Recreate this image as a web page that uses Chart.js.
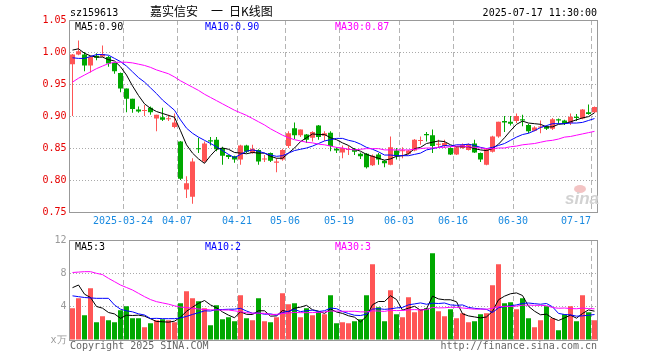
<!DOCTYPE html>
<html><head><meta charset="utf-8">
<script src="https://cdn.jsdelivr.net/npm/chart.js@4.4.1/dist/chart.umd.min.js"></script>
<style>
html,body{margin:0;padding:0;background:#fff;}
#wrap{position:relative;width:660px;height:360px;overflow:hidden;background:#fff;}
canvas{position:absolute;left:0;}
.t{position:absolute;font:10px 'DejaVu Sans Mono',monospace;line-height:10px;white-space:pre;z-index:5;}
.c{position:absolute;font:12px 'Noto Sans CJK SC',sans-serif;line-height:12px;white-space:pre;z-index:5;color:#000;}
</style></head><body>
<div id="wrap">
<canvas id="k" width="660" height="230" style="top:0px"></canvas>
<canvas id="v" width="660" height="130" style="top:230px"></canvas>
<div class="t" style="left:70px;top:8px;color:#000">sz159613</div>
<div class="c" style="left:150px;top:5px">嘉实信安</div>
<div class="c" style="left:211px;top:5px">一</div>
<div class="c" style="left:229px;top:5px">日K线图</div>
<div class="t" style="right:63px;top:8px;color:#000">2025-07-17 11:30:00</div>
<div class="t" style="left:75px;top:22px;color:#000">MA5:0.90</div>
<div class="t" style="left:205px;top:22px;color:#0000ff">MA10:0.90</div>
<div class="t" style="left:335px;top:22px;color:#ff00ff">MA30:0.87</div>
<div class="t" style="left:75px;top:242px;color:#000">MA5:3</div>
<div class="t" style="left:205px;top:242px;color:#0000ff">MA10:2</div>
<div class="t" style="left:335px;top:242px;color:#ff00ff">MA30:3</div>
<div class="t" style="left:70px;top:341px;color:#666">Copyright 2025 SINA.COM</div>
<div class="t" style="right:63px;top:341px;color:#666">http://finance.sina.com.cn</div>
<div style="position:absolute;left:574px;top:185px;width:12px;height:8px;border-radius:50%;background:#f3c4c4;z-index:4"></div>
<div style="position:absolute;left:565px;top:190px;font:italic bold 17px 'Liberation Sans',sans-serif;line-height:17px;color:#d2d2d2;z-index:4">sina</div>
</div>
<script>
const categories = ['2025-03-11','2025-03-12','2025-03-13','2025-03-14','2025-03-17','2025-03-18','2025-03-19','2025-03-20','2025-03-21','2025-03-24','2025-03-25','2025-03-26','2025-03-27','2025-03-28','2025-03-31','2025-04-01','2025-04-02','2025-04-03','2025-04-07','2025-04-08','2025-04-09','2025-04-10','2025-04-11','2025-04-14','2025-04-15','2025-04-16','2025-04-17','2025-04-18','2025-04-21','2025-04-22','2025-04-23','2025-04-24','2025-04-25','2025-04-28','2025-04-29','2025-04-30','2025-05-06','2025-05-07','2025-05-08','2025-05-09','2025-05-12','2025-05-13','2025-05-14','2025-05-15','2025-05-16','2025-05-19','2025-05-20','2025-05-21','2025-05-22','2025-05-23','2025-05-26','2025-05-27','2025-05-28','2025-05-29','2025-05-30','2025-06-03','2025-06-04','2025-06-05','2025-06-06','2025-06-09','2025-06-10','2025-06-11','2025-06-12','2025-06-13','2025-06-16','2025-06-17','2025-06-18','2025-06-19','2025-06-20','2025-06-23','2025-06-24','2025-06-25','2025-06-26','2025-06-27','2025-06-30','2025-07-01','2025-07-02','2025-07-03','2025-07-04','2025-07-07','2025-07-08','2025-07-09','2025-07-10','2025-07-11','2025-07-14','2025-07-15','2025-07-16','2025-07-17'];

const tickDates = ['2025-03-24','2025-04-07','2025-04-21','2025-05-06','2025-05-19','2025-06-03','2025-06-16','2025-06-30','2025-07-17'];
const tickText = ['2025-03-24','04-07','04-21','05-06','05-19','06-03','06-16','06-30','07-17'];

const open = [.981,.996,.996,.979,.994,.993,.992,.983,.967,.943, .927,.910,.908,.913,.896,.898,.895,.883,.860,.785, .774,.849,.829,.862,.863,.850,.839,.837,.832,.854, .842,.847,.832,.842,.827,.832,.853,.881,.870,.871, .866,.885,.869,.874,.849,.843,.847,.848,.841,.841, .823,.840,.830,.824,.846,.845,.841,.846,.861,.872, .870,.855,.853,.850,.840,.850,.847,.857,.842,.824, .844,.868,.892,.891,.892,.895,.886,.877,.882,.884, .880,.895,.893,.889,.899,.896,.906,.906];
const high = [.997,1.018,1.000,.994,.998,1.010,.994,.984,.968,.943, .927,.915,.917,.915,.902,.913,.902,.904,.861,.806, .834,.866,.860,.867,.867,.852,.840,.838,.855,.855, .855,.848,.839,.843,.834,.849,.876,.890,.879,.872, .876,.886,.876,.876,.851,.854,.853,.850,.843,.842, .840,.842,.831,.868,.850,.851,.847,.864,.868,.875, .879,.863,.863,.851,.852,.857,.857,.863,.843,.850, .869,.891,.900,.900,.904,.902,.888,.884,.893,.885, .897,.896,.894,.904,.903,.911,.918,.915];
const low = [.900,.995,.970,.968,.987,.992,.977,.966,.937,.906, .905,.905,.900,.902,.876,.892,.892,.881,.800,.772, .763,.842,.827,.854,.845,.824,.833,.827,.824,.842, .841,.824,.828,.828,.812,.830,.850,.864,.867,.858, .860,.863,.861,.845,.842,.834,.839,.839,.833,.818, .822,.824,.820,.823,.832,.834,.840,.845,.855,.860, .842,.850,.850,.839,.839,.849,.846,.842,.828,.823, .843,.866,.875,.885,.889,.884,.873,.876,.873,.878, .878,.888,.886,.886,.892,.895,.902,.905];
const close = [.996,1.001,.979,.992,.991,.997,.982,.970,.943,.927, .911,.907,.909,.906,.902,.894,.896,.890,.802,.795, .829,.848,.857,.860,.848,.838,.836,.832,.854,.844, .849,.829,.833,.830,.829,.847,.873,.870,.879,.863, .875,.867,.873,.853,.846,.850,.848,.844,.837,.820, .838,.832,.826,.851,.837,.846,.846,.863,.862,.870, .853,.856,.858,.840,.851,.855,.856,.843,.832,.848, .868,.891,.890,.888,.900,.893,.876,.882,.883,.880, .895,.893,.888,.899,.897,.910,.903,.914];

const ma5 = [1.003,1.005,.998,.994,.992,.992,.988,.986,.977,.964, .947,.932,.919,.912,.907,.904,.901,.898,.877,.855, .842,.833,.826,.838,.848,.850,.848,.843,.842,.841, .843,.842,.842,.837,.834,.834,.842,.850,.860,.866, .872,.871,.871,.866,.863,.858,.854,.848,.845,.840, .837,.834,.831,.833,.837,.838,.841,.849,.851,.857, .859,.861,.860,.855,.852,.852,.852,.849,.847,.846, .849,.856,.866,.877,.887,.892,.889,.888,.887,.883, .883,.887,.888,.891,.894,.897,.899,.905];
const ma10 = [.991,.990,.990,.993,.996,.996,.995,.990,.985,.978, .969,.960,.953,.944,.935,.925,.917,.909,.894,.881, .873,.867,.862,.857,.852,.846,.840,.835,.840,.845, .847,.845,.842,.839,.837,.838,.842,.846,.848,.850, .853,.857,.861,.863,.865,.865,.862,.860,.856,.851, .848,.844,.839,.839,.838,.838,.838,.840,.842,.847, .849,.851,.854,.853,.855,.855,.856,.854,.851,.849, .851,.854,.857,.862,.867,.871,.873,.877,.882,.885, .888,.888,.888,.889,.889,.890,.893,.896];
const ma30 = [.953,.959,.964,.969,.974,.978,.982,.984,.984,.984, .983,.981,.979,.976,.972,.969,.966,.961,.955,.950, .945,.940,.934,.929,.924,.919,.914,.909,.905,.901, .896,.891,.886,.880,.875,.870,.866,.863,.861,.859, .858,.856,.855,.853,.851,.850,.848,.847,.848,.849, .849,.849,.847,.847,.847,.847,.847,.848,.849,.850, .850,.851,.851,.852,.853,.853,.852,.851,.850,.849, .849,.850,.850,.852,.853,.855,.856,.857,.859,.861, .862,.864,.867,.868,.870,.872,.874,.876];

const volume = [3.8,5.0,2.96,6.2,2.12,2.84,2.36,2.12,3.56,4.04, 2.6,2.6,1.52,2.0,2.36,2.48,2.36,2.12,4.4,5.84, 5.0,4.64,3.8,1.76,4.16,2.48,2.72,2.24,5.36,2.6, 2.36,5.0,2.24,2.12,2.72,5.6,4.28,4.4,2.72,3.8, 2.96,3.4,3.08,5.36,2.0,2.12,2.0,2.24,2.48,5.36, 9.08,3.92,2.24,5.96,3.08,2.72,5.12,3.32,3.68,3.8, 10.4,3.44,2.84,3.68,2.6,3.2,2.12,2.24,3.08,3.2, 6.56,9.08,4.4,4.52,3.68,5.0,2.6,1.52,2.36,4.04, 2.6,1.16,3.08,4.04,2.24,5.36,3.32,2.36];
const volMa5 = [6.28,6.6,5.5,5.1,4.02,3.82,3.30,3.13,2.60,2.98, 2.94,2.98,2.86,2.55,2.22,2.19,2.14,2.26,2.74,3.44, 3.94,4.40,4.74,4.21,3.87,3.37,2.98,2.67,3.39,3.08, 3.06,3.51,3.51,2.86,2.89,3.54,3.39,3.82,3.94,4.16, 3.63,3.46,3.19,3.72,3.36,3.19,2.91,2.74,2.17,2.84, 4.23,4.62,4.62,5.31,4.86,3.58,3.82,4.04,3.58,3.73, 5.26,4.93,4.83,4.83,4.59,3.15,2.89,2.77,2.65,2.77, 3.44,4.83,5.26,5.55,5.65,5.34,4.04,3.46,3.03,3.10, 2.62,2.34,2.65,2.98,2.62,3.18,3.61,3.46];
const volMa10 = [5.3,5.2,5.1,5.05,5.0,5.0,5.0,4.2,3.7,3.50, 3.38,3.14,3.00,2.58,2.60,2.56,2.56,2.56,2.65,2.83, 3.07,3.27,3.50,3.48,3.66,3.66,3.69,3.70,3.80,3.48, 3.21,3.25,3.09,3.13,2.98,3.30,3.45,3.67,3.40,3.52, 3.58,3.42,3.51,3.83,3.76,3.41,3.18,2.97,2.94,3.10, 3.71,3.76,3.68,3.74,3.85,3.91,4.22,4.33,4.45,4.29, 4.42,4.38,4.44,4.21,4.16,4.21,3.91,3.80,3.74,3.68, 3.30,3.86,4.02,4.10,4.21,4.39,4.44,4.36,4.29,4.38, 3.98,3.19,3.06,3.01,2.86,2.90,2.97,3.06];
const volMa30 = [8.1,8.15,8.2,8.2,8.0,7.85,7.4,7.0,6.6,6.3, 6.0,5.6,5.2,4.85,4.6,4.45,4.3,4.1,3.95,3.9, 3.8,3.72,3.66,3.62,3.6,3.6,3.6,3.5,3.4,3.27, 3.22,3.22,3.20,3.06,3.08,3.17,3.24,3.31,3.28,3.28, 3.29,3.31,3.37,3.48,3.47,3.45,3.44,3.45,3.38,3.37, 3.50,3.48,3.43,3.57,3.53,3.54,3.62,3.65,3.60,3.64, 3.91,3.85,3.87,3.93,3.92,3.84,3.77,3.70,3.71,3.69, 3.81,4.00,4.04,4.02,4.07,4.17,4.19,4.16,4.16,4.12, 3.90,3.81,3.84,3.77,3.75,3.83,3.77,3.74];

Chart.defaults.font.family = "'DejaVu Sans Mono', monospace";
Chart.defaults.font.size = 10;
const UP = '#ff5555', DOWN = '#00a800';
const n = categories.length;
const barColors = close.map((c, i) => c >= open[i] ? UP : DOWN);
const isTick = i => tickDates.indexOf(categories[i]) >= 0;
const CLEAR = 'rgba(0,0,0,0)';

const boxPlugin = {
  id: 'box',
  beforeDatasetsDraw(chart) {
    const {ctx, chartArea: a} = chart;
    ctx.save();
    ctx.strokeStyle = '#999';
    ctx.lineWidth = 1;
    ctx.setLineDash([]);
    ctx.strokeRect(Math.floor(a.left) + 0.5, Math.floor(a.top) + 0.5, Math.round(a.right - a.left), Math.round(a.bottom - a.top));
    ctx.restore();
  }
};

function xAxis(showLabels, h) {
  return {
    type: 'category', offset: true,
    grid: { offset: true, drawTicks: false, lineWidth: 1,
      color: c => (c.index !== undefined && c.index < n && isTick(c.index)) ? '#b4b4b4' : CLEAR },
    border: { display: false, dash: [5, 3] },
    ticks: { display: showLabels, autoSkip: false, maxRotation: 0, minRotation: 0, padding: 3, labelOffset: -3.5, color: '#1a8ae0',
      callback: (v, i) => {
        const k = tickDates.indexOf(categories[i]);
        if (k < 0) return '';
        let t = tickText[k];
        if (i === n - 1) t = t + ' '.repeat(t.length);
        return t;
      } },
    afterFit: s => { s.height = h; s.paddingLeft = 0; s.paddingRight = 0; }
  };
}
function yAxis(min, max, step, color, fmt, h) {
  return {
    type: 'linear', min: min, max: max,
    ticks: { stepSize: step, color: color, padding: 3, callback: fmt },
    grid: { drawTicks: false, lineWidth: 1,
      color: c => { const v = c.tick ? c.tick.value : null; return (v === null || Math.abs(v - min) < 1e-6 || Math.abs(v - max) < 1e-6) ? CLEAR : '#aaa'; } },
    border: { display: false, dash: [1, 2] },
    afterFit: s => { s.width = 69.5; s.paddingTop = 0; s.paddingBottom = 0; }
  };
}
const lineDs = (data, color) => ({ type: 'line', data: data, borderColor: color, borderWidth: 1, pointRadius: 0, tension: 0, fill: false, order: 0 });
const common = { responsive: false, animation: false, devicePixelRatio: 1, events: [],
  plugins: { legend: { display: false }, tooltip: { enabled: false } } };

new Chart(document.getElementById('k'), {
  type: 'bar',
  data: { labels: categories, datasets: [
    lineDs(ma30, '#ff00ff'), lineDs(ma10, '#0000ff'), lineDs(ma5, '#000000'),
    { type: 'bar', data: low.map((l, i) => [l, high[i]]), backgroundColor: barColors, barThickness: 1, grouped: false, order: 2, inflateAmount: 0, borderWidth: 0 },
    { type: 'bar', data: open.map((o, i) => [Math.min(o, close[i]), Math.max(o, close[i])]), backgroundColor: barColors, barThickness: 5, minBarLength: 1, grouped: false, order: 1, inflateAmount: 0, borderWidth: 0 }
  ] },
  options: Object.assign({}, common, {
    layout: { padding: { left: 0, right: 62.5, top: 20, bottom: 0 } },
    scales: { x: xAxis(true, 18), y: yAxis(0.75, 1.05, 0.05, '#e60000', v => Number(v).toFixed(2)) }
  }),
  plugins: [boxPlugin]
});

new Chart(document.getElementById('v'), {
  type: 'bar',
  data: { labels: categories, datasets: [
    lineDs(volMa30, '#ff00ff'), lineDs(volMa10, '#0000ff'), lineDs(volMa5, '#000000'),
    { type: 'bar', data: volume, backgroundColor: barColors, barThickness: 5, grouped: false, order: 1, inflateAmount: 0, borderWidth: 0 }
  ] },
  options: Object.assign({}, common, {
    layout: { padding: { left: 0, right: 62.5, top: 10, bottom: 0 } },
    scales: { x: xAxis(false, 20), y: yAxis(0, 12, 4, '#999', v => v === 0 ? 'x万' : String(v)) }
  }),
  plugins: [boxPlugin]
});
</script>
</body></html>
